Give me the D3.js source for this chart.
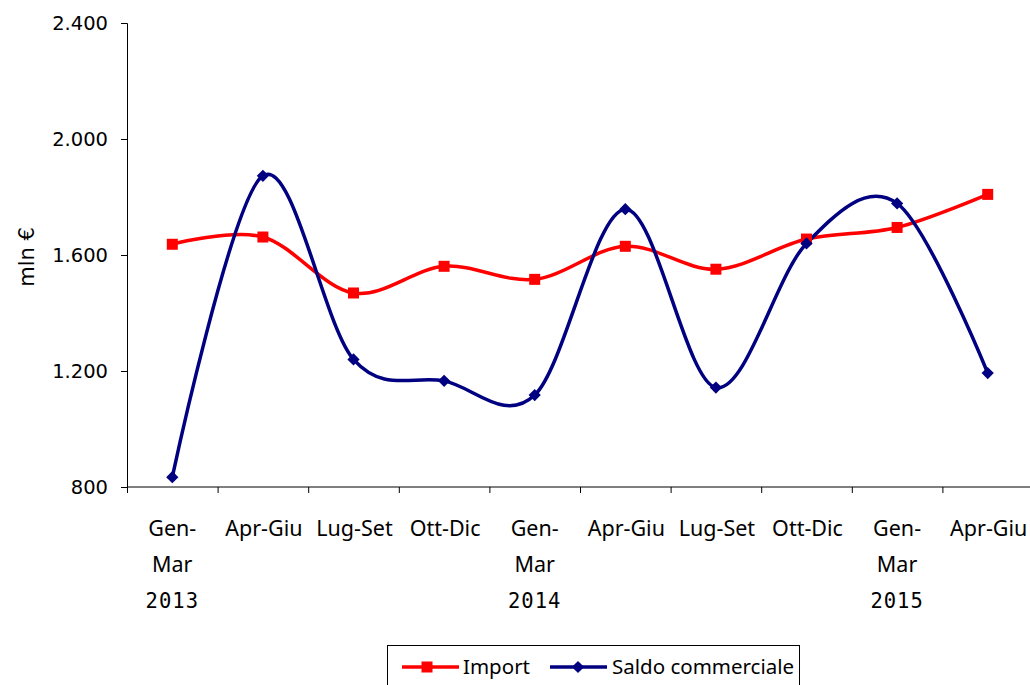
<!DOCTYPE html>
<html>
<head>
<meta charset="utf-8">
<script src="https://cdn.jsdelivr.net/npm/d3@7"></script>
<style>
  body { margin: 0; background: #fff; }
  svg { display: block; }
</style>
</head>
<body>
<div id="chart"></div>
<script>
// Dati
const periodi = [["Gen-", "Mar"], ["Apr-Giu"], ["Lug-Set"], ["Ott-Dic"], ["Gen-", "Mar"],
  ["Apr-Giu"], ["Lug-Set"], ["Ott-Dic"], ["Gen-", "Mar"], ["Apr-Giu"]];
const anni = [{ i: 0, label: "2013" }, { i: 4, label: "2014" }, { i: 8, label: "2015" }];
const importVal = [1637, 1662, 1469, 1561, 1516, 1630, 1551, 1655, 1695, 1809];
const saldoVal = [834, 1873, 1240, 1166, 1117, 1758, 1143, 1640, 1778, 1193];
const yTicks = [800, 1200, 1600, 2000, 2400];

const W = 1030, H = 685;
const mLeft = 127, mRight = 1033, mTop = 23, mBottom = 487;

const svg = d3.select("#chart").append("svg")
  .attr("width", W).attr("height", H);

// Scale
const x = d3.scaleBand().domain(d3.range(periodi.length)).range([mLeft, mRight]).padding(0);
const xTick = d3.scaleLinear().domain([0, periodi.length]).range([mLeft, mRight]);
const y = d3.scaleLinear().domain([800, 2400]).range([mBottom, mTop]);
const cx = i => x(i) + x.bandwidth() / 2;

// Asse Y
const yAxis = svg.append("g")
  .attr("transform", `translate(${mLeft},0)`)
  .call(d3.axisLeft(y).tickValues(yTicks).tickSize(6).tickPadding(13)
    .tickFormat(d => d3.format(",")(d).replace(",", ".")));
yAxis.select(".domain").attr("stroke", "#000");
yAxis.selectAll("text").attr("font-family", "DejaVu Sans").attr("font-size", 19.5).attr("fill", "#000");

// Asse X
const xAxis = svg.append("g")
  .attr("transform", `translate(0,${mBottom})`)
  .call(d3.axisBottom(xTick).tickValues(d3.range(0, periodi.length)).tickSize(6).tickFormat(""));
xAxis.select(".domain").attr("d", `M${mLeft},0H${W}`).attr("stroke", "#000");

// Etichette periodi
const lab = svg.append("g").attr("font-family", "Noto Sans").attr("font-size", 21.5).attr("fill", "#000")
  .attr("text-anchor", "middle");
periodi.forEach((p, i) => {
  p.forEach((t, k) => {
    lab.append("text").attr("x", cx(i) + (p.length > 1 ? 0 : 1)).attr("y", 536 + k * 36).text(t);
  });
});
anni.forEach(a => {
  lab.append("text").attr("x", cx(a.i)).attr("y", 608)
    .attr("font-family", "DejaVu Sans Mono").attr("font-size", 20.5)
    .attr("letter-spacing", 1).text(a.label);
});

// Titolo asse Y
svg.append("text")
  .attr("transform", `translate(34,${257}) rotate(-90)`)
  .attr("text-anchor", "middle")
  .attr("font-family", "DejaVu Sans").attr("font-size", 21)
  .text("mln €");

// Linee
const line = d3.line().x((d, i) => cx(i)).y(d => y(d)).curve(d3.curveCardinal.tension(0));

svg.append("path").datum(importVal)
  .attr("fill", "none").attr("stroke", "#ff0000").attr("stroke-width", 3.5).attr("d", line);
svg.append("path").datum(saldoVal)
  .attr("fill", "none").attr("stroke", "#000080").attr("stroke-width", 3.5).attr("d", line);

// Marcatori
svg.selectAll(".imp").data(importVal).enter().append("rect")
  .attr("x", (d, i) => cx(i) - 5.5).attr("y", d => y(d) - 5.5)
  .attr("width", 11).attr("height", 11).attr("fill", "#ff0000");

const rombo = d3.symbol().type(d3.symbolSquare).size(75);
svg.selectAll(".sal").data(saldoVal).enter().append("path")
  .attr("transform", (d, i) => `translate(${cx(i)},${y(d)}) rotate(45)`)
  .attr("d", rombo).attr("fill", "#000080");

// Legenda
const leg = svg.append("g");
leg.append("rect").attr("x", 387.5).attr("y", 645.5).attr("width", 412).attr("height", 45)
  .attr("fill", "#fff").attr("stroke", "#000").attr("stroke-width", 1);
leg.append("line").attr("x1", 402).attr("x2", 459).attr("y1", 667).attr("y2", 667)
  .attr("stroke", "#ff0000").attr("stroke-width", 3.5);
leg.append("rect").attr("x", 427 - 5.5).attr("y", 667 - 5.5).attr("width", 11).attr("height", 11)
  .attr("fill", "#ff0000");
leg.append("text").attr("x", 463).attr("y", 674).attr("font-family", "Noto Sans").attr("font-size", 20.5)
  .text("Import");
leg.append("line").attr("x1", 550).attr("x2", 607).attr("y1", 667).attr("y2", 667)
  .attr("stroke", "#000080").attr("stroke-width", 3.5);
leg.append("path").attr("transform", "translate(578,667) rotate(45)")
  .attr("d", rombo).attr("fill", "#000080");
leg.append("text").attr("x", 612).attr("y", 674).attr("font-family", "Noto Sans").attr("font-size", 20.5)
  .text("Saldo commerciale");
</script>
</body>
</html>
